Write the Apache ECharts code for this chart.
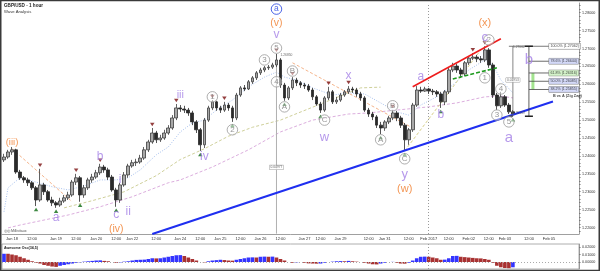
<!DOCTYPE html>
<html><head><meta charset="utf-8">
<script src="https://cdn.jsdelivr.net/npm/echarts@6.0.0/dist/echarts.min.js"></script>
<style>html,body{margin:0;padding:0;background:#fff}#c{width:600px;height:271px}</style>
</head><body><div id="c"></div>
<script>
// ---------- DATA ----------
const barCount = 144; // hourly slots shown (2h per slot), incl. empty space on the right
// [open, close, low, high]
const candles = [
[1.2389,1.2397,1.2383,1.2406],[1.2397,1.2411,1.2392,1.2417],[1.2411,1.2417,1.2403,1.2425],[1.2417,1.2355,1.2350,1.2420],
[1.2355,1.2339,1.2333,1.2361],[1.2339,1.2333,1.2325,1.2344],[1.2333,1.2325,1.2316,1.2339],[1.2325,1.2311,1.2305,1.2330],
[1.2311,1.2277,1.2260,1.2316],[1.2277,1.2319,1.2272,1.2364],[1.2319,1.2300,1.2291,1.2325],[1.2300,1.2277,1.2272,1.2305],
[1.2277,1.2269,1.2260,1.2286],[1.2269,1.2263,1.2255,1.2274],[1.2263,1.2274,1.2258,1.2283],[1.2274,1.2283,1.2269,1.2291],
[1.2283,1.2291,1.2277,1.2300],[1.2291,1.2327,1.2286,1.2333],[1.2327,1.2339,1.2319,1.2350],[1.2339,1.2291,1.2272,1.2344],
[1.2291,1.2311,1.2283,1.2319],[1.2311,1.2333,1.2305,1.2339],[1.2333,1.2341,1.2325,1.2350],[1.2341,1.2353,1.2336,1.2361],
[1.2353,1.2369,1.2347,1.2378],[1.2369,1.2361,1.2353,1.2375],[1.2361,1.2341,1.2333,1.2367],[1.2341,1.2305,1.2300,1.2347],
[1.2305,1.2277,1.2258,1.2311],[1.2277,1.2319,1.2269,1.2325],[1.2319,1.2347,1.2314,1.2355],[1.2347,1.2372,1.2339,1.2378],
[1.2372,1.2381,1.2367,1.2389],[1.2381,1.2383,1.2372,1.2392],[1.2383,1.2394,1.2378,1.2403],[1.2394,1.2417,1.2389,1.2425],
[1.2417,1.2439,1.2411,1.2445],[1.2439,1.2464,1.2434,1.2478],[1.2464,1.2445,1.2436,1.2470],[1.2445,1.2450,1.2439,1.2459],
[1.2450,1.2464,1.2445,1.2473],[1.2464,1.2478,1.2459,1.2486],[1.2478,1.2506,1.2473,1.2514],[1.2506,1.2534,1.2500,1.2545],
[1.2534,1.2531,1.2523,1.2542],[1.2531,1.2528,1.2520,1.2540],[1.2528,1.2520,1.2512,1.2534],[1.2520,1.2495,1.2486,1.2526],
[1.2495,1.2473,1.2464,1.2500],[1.2473,1.2431,1.2414,1.2478],[1.2431,1.2500,1.2422,1.2506],[1.2500,1.2534,1.2495,1.2540],
[1.2534,1.2551,1.2528,1.2556],[1.2551,1.2534,1.2526,1.2554],[1.2534,1.2528,1.2520,1.2540],[1.2528,1.2542,1.2523,1.2551],
[1.2542,1.2534,1.2526,1.2548],[1.2534,1.2506,1.2495,1.2540],[1.2506,1.2570,1.2500,1.2576],[1.2570,1.2590,1.2565,1.2595],
[1.2590,1.2587,1.2581,1.2598],[1.2587,1.2607,1.2584,1.2612],[1.2607,1.2618,1.2601,1.2623],[1.2618,1.2632,1.2612,1.2637],
[1.2632,1.2640,1.2626,1.2646],[1.2640,1.2646,1.2634,1.2651],[1.2646,1.2648,1.2640,1.2654],[1.2648,1.2654,1.2643,1.2660],
[1.2654,1.2668,1.2648,1.2685],[1.2668,1.2598,1.2590,1.2673],[1.2598,1.2562,1.2554,1.2604],[1.2562,1.2590,1.2556,1.2595],
[1.2590,1.2612,1.2584,1.2620],[1.2612,1.2604,1.2595,1.2618],[1.2604,1.2598,1.2590,1.2609],[1.2598,1.2595,1.2587,1.2604],
[1.2595,1.2584,1.2579,1.2601],[1.2584,1.2565,1.2556,1.2590],[1.2565,1.2545,1.2540,1.2570],[1.2545,1.2528,1.2520,1.2551],
[1.2528,1.2562,1.2523,1.2567],[1.2562,1.2579,1.2556,1.2593],[1.2579,1.2551,1.2545,1.2584],[1.2551,1.2556,1.2545,1.2565],
[1.2556,1.2570,1.2551,1.2576],[1.2570,1.2579,1.2565,1.2584],[1.2579,1.2587,1.2573,1.2595],[1.2587,1.2584,1.2576,1.2593],
[1.2584,1.2573,1.2565,1.2590],[1.2573,1.2562,1.2554,1.2579],[1.2562,1.2528,1.2523,1.2567],[1.2528,1.2517,1.2509,1.2534],
[1.2517,1.2509,1.2500,1.2523],[1.2509,1.2486,1.2478,1.2514],[1.2486,1.2478,1.2461,1.2495],[1.2478,1.2495,1.2470,1.2500],
[1.2495,1.2506,1.2489,1.2512],[1.2506,1.2520,1.2500,1.2528],[1.2520,1.2506,1.2497,1.2526],[1.2506,1.2486,1.2478,1.2512],
[1.2486,1.2445,1.2414,1.2492],[1.2445,1.2473,1.2431,1.2478],[1.2473,1.2542,1.2467,1.2548],[1.2542,1.2584,1.2537,1.2595],
[1.2584,1.2581,1.2576,1.2593],[1.2581,1.2587,1.2579,1.2593],[1.2587,1.2581,1.2573,1.2590],[1.2581,1.2579,1.2570,1.2587],
[1.2579,1.2573,1.2565,1.2584],[1.2573,1.2551,1.2534,1.2579],[1.2551,1.2579,1.2542,1.2584],[1.2579,1.2640,1.2573,1.2646],
[1.2640,1.2651,1.2634,1.2660],[1.2651,1.2640,1.2632,1.2657],[1.2640,1.2629,1.2618,1.2646],[1.2629,1.2660,1.2623,1.2665],
[1.2660,1.2673,1.2654,1.2679],[1.2673,1.2676,1.2668,1.2687],[1.2676,1.2671,1.2662,1.2682],[1.2671,1.2668,1.2660,1.2679],
[1.2668,1.2696,1.2662,1.27062],[1.2696,1.2654,1.2646,1.2701],[1.2654,1.2570,1.2562,1.2660],[1.2570,1.2540,1.2528,1.2576],
[1.2540,1.2565,1.2534,1.2579],[1.2565,1.2542,1.2537,1.2570],[1.2542,1.2523,1.2517,1.2548],[1.2523,1.2517,1.25109,1.2528]
];
// Awesome Oscillator(34,5)
const awesomeOsc = [
0.011,0.011,0.010,0.009,0.007,0.005,0.003,0.001,-0.001,-0.002,-0.004,-0.005,-0.006,-0.0065,-0.005,-0.004,
-0.003,-0.002,-0.001,-0.0005,0.0005,0.001,0.0015,0.002,0.0022,0.0015,0.001,0.0,-0.001,-0.0005,0.0005,0.001,
0.002,0.0028,0.003,0.0032,0.004,0.005,0.0048,0.005,0.006,0.007,0.008,0.009,0.0092,0.008,0.006,0.004,
0.002,0.0,-0.0005,0.001,0.002,0.0025,0.003,0.0026,0.002,0.0018,0.003,0.004,0.005,0.006,0.0062,0.006,
0.007,0.0072,0.007,0.0072,0.006,0.004,0.002,0.0,-0.001,-0.0005,0.0,-0.001,-0.0018,-0.002,-0.0022,-0.002,
-0.001,0.0,0.0005,0.001,0.0012,0.001,0.0015,0.001,0.0005,0.0,-0.001,-0.002,-0.003,-0.0032,-0.002,-0.001,
0.0,0.0002,-0.001,-0.002,-0.0022,-0.001,0.002,0.005,0.007,0.0072,0.007,0.006,0.005,0.003,0.0032,0.005,
0.008,0.0082,0.007,0.0065,0.006,0.0055,0.005,0.0048,0.004,0.003,-0.001,-0.005,-0.007,-0.008,-0.0082,-0.007
];
// moving averages, sampled points [slot, price]
const maFast = [[0,1.2244],[1,1.2311],[4,1.2339],[7,1.2330],[12,1.2314],[16,1.2305],[20,1.2316],[24,1.2333],[28,1.2333],[31,1.2339],[34,1.2361],[38,1.2403],[41,1.2425],[44,1.2467],[47,1.2492],[50,1.2500],[53,1.2528],[57,1.2556],[61,1.2593],[65,1.2620],[68,1.2634],[70,1.2620],[73,1.2612],[77,1.2590],[82,1.2570],[86,1.2576],[90,1.2573],[94,1.2548],[98,1.2523],[101,1.2514],[104,1.2542],[108,1.2565],[112,1.2598],[116,1.2640],[120,1.2668],[122,1.2654],[124,1.2612],[127,1.2576]];
const maMid = [[15,1.2255],[22,1.2275],[30,1.2300],[38,1.2345],[44,1.2390],[50,1.2420],[56,1.2455],[62,1.2480],[69,1.2500],[79,1.2545],[89,1.2590],[94,1.2592]];
const maSlow = [[1,1.2199],[4,1.2207],[16,1.2235],[24,1.2258],[32,1.2286],[41,1.2325],[44,1.2333],[52,1.2369],[61,1.2417],[69,1.2467],[77,1.2500],[86,1.2517],[91,1.2520],[98,1.2528],[106,1.2537],[113,1.2548],[120,1.2565],[124,1.2567],[127,1.2562]];
// drawn trend lines [slot, price]
const blueTrend = [[37,1.2182],[136.5,1.2552]];
const redWedge = [[102.25,1.2593],[123.5,1.2727]];
const greenWedge = [[111.5,1.2615],[123.25,1.2646]];
const yellowTrend = [[100,1.2414],[118.5,1.2696]];
const orangeTrendA = [[2,1.2420],[16.5,1.2272]];
const orangeTrendB = [[72,1.2660],[102,1.2478]];
const measureLine = [[68.25,1.2685],[68.25,1.2183]];
const measureText = '0.04977';
const peakText = '1.26850';
// pivot markers (slot indices)
const highPivots = [9,18,24,37,43,52,55,68,72,81,86,97,117,120];
const lowPivots = [8,13,19,28,49,57,70,79,94,100,109,127];
// wave labels [text, slot, price, kind, fontSize]
const waveLabels = [
['(iii)',1.5,1.2439,'o',9.5],['a',12.75,1.2227,'p'],['b',24.25,1.2397,'p'],['i',29,1.2333,'p'],
['c',27.75,1.2236,'p'],['ii',30.5,1.2244,'p'],['(iv)',27.75,1.2196,'o'],['iii',43.5,1.2570,'p',11],
['iv',49.5,1.2397,'p'],['1',51.5,1.2565,'c'],['2',57.25,1.2473,'c'],['3',64.5,1.2668,'c'],
['4',67.5,1.2607,'c'],['5',68.25,1.2701,'c'],['v',68.25,1.2738,'p'],['(v)',68.25,1.2771,'o'],
['a',68.25,1.2810,'b'],['A',70,1.2537,'c'],['B',72.25,1.2637,'c'],['C',79.5,1.2500,'c'],
['w',79.5,1.2453,'p',13],['x',86,1.2623,'p'],['A',93.5,1.2445,'c'],['B',97.25,1.2540,'c'],
['C',100.25,1.2392,'c'],['y',100.25,1.2347,'p',13],['(w)',100.25,1.2308,'o',11],['a',104,1.2620,'p'],
['b',109.25,1.2514,'p'],['2',121,1.2724,'c'],['c',120.25,1.2732,'p',13],['(x)',119.75,1.2771,'o',11],
['1',120.25,1.2618,'c'],['4',124,1.2587,'c'],['3',122.75,1.2514,'c'],['5',126.25,1.2495,'c'],
['a',126,1.2450,'p',15],['b',131.25,1.2668,'p',15]
];
// fibonacci retracement of B vs A
const fibHigh = 1.27062, fibLow = 1.25109, fibRange = '0.01953';
const fibNames = ['100.0%','78.6%','61.8%','50.0%','38.2%'];
const fibLevels = [1.27062,1.26644,1.26316,1.26085,1.25855];
const fibFill = ['#ffffff','#c9cff5','#c9f0bd','#c9cff5','#c9cff5'];
const fibSlotA = 126.5, fibSlotB = 131.25, fibSlotEnd = 135.75;
// right-axis price boxes
const priceBoxes = [1.25628,1.25508,1.25396,1.25257,1.25170];
const priceBoxFill = ['#ffffff','#f4f4f4','#d6f3fa','#c8ccf4','#f6caca'];
// tick labels
const tickIndex = [2,7,13,18,23,28,32,38,44,49,54,59,64,69,75,79,84,91,95,101,106,111,116,121,125,131,136];
const tickLabels = ['Jan 18','12:00','Jan 19','12:00','Jan 20','12:00','Jan 22','12:00','Jan 24','12:00','Jan 25','12:00','Jan 26','12:00','Jan 27','12:00','Jan 29','12:00','Jan 31','12:00','Feb 2017','12:00','Feb 02','12:00','Feb 03','12:00','Feb 05'];
const monthSlot = 106;
const priceTicks = [1.22,1.225,1.23,1.235,1.24,1.245,1.25,1.255,1.26,1.265,1.27,1.275,1.28];
const oscTicks = [0,0.01,0.02];

// ---------- CHART ----------
const FONT = '"Liberation Sans", Arial, sans-serif';
const categories = Array.from({length: barCount}, (_, i) => 'h' + i);
const labelMap = {}; tickIndex.forEach((ix, k) => labelMap[ix] = tickLabels[k]);
const tickSet = new Set(tickIndex.map(i => i - 2));
const minorTicks = []; for (let k = 1219; k <= 1282; k++) minorTicks.push(k / 1000);

const kindStyle = {
  p: {color: '#a47fe6', size: 12},
  o: {color: '#f07a28', size: 10.5},
  c: {color: '#7a7a7a', size: 8},
  b: {color: '#1f3fe0', size: 8.5}
};
function waveSeries(kind) {
  const circle = kind === 'c' || kind === 'b';
  return {
    type: 'scatter', xAxisIndex: 0, yAxisIndex: 0, silent: true, z: 12,
    symbol: 'circle', symbolSize: circle ? 10.5 : 0,
    itemStyle: circle ? {color: 'rgba(255,255,255,0.6)', borderColor: kind === 'b' ? '#1f3fe0' : '#9a9a9a', borderWidth: 1} : {color: 'rgba(0,0,0,0)'},
    label: {show: true, position: 'inside', color: kindStyle[kind].color, fontFamily: FONT, fontSize: kindStyle[kind].size},
    data: waveLabels.filter(w => w[3] === kind).map(w => ({
      value: [w[1], w[2]],
      label: {formatter: w[0], fontSize: w[4] || kindStyle[kind].size}
    }))
  };
}
function seg(points, color, width, type, z) {
  return {type: 'line', xAxisIndex: 0, yAxisIndex: 0, data: points, showSymbol: false, symbol: 'none',
    lineStyle: {color: color, width: width, type: type || 'solid'}, silent: true, z: z || 3};
}
function textAt(items, z) {
  return {type: 'scatter', xAxisIndex: 0, yAxisIndex: 0, silent: true, z: z || 14, symbolSize: 0,
    itemStyle: {color: 'rgba(0,0,0,0)'}, data: items};
}

const series = [];
series.push(seg(maSlow, '#dcaede', 1, [3, 2], 2));
series.push(seg(maMid, '#cfd09a', 1, [3, 2], 2));
series.push(seg(maFast, '#a9c2ee', 1, [1, 1.5], 2));
series.push(seg(orangeTrendA, '#f5b58c', 1, [3, 2], 2));
series.push(seg(orangeTrendB, '#f5b58c', 1, [3, 2], 2));
series.push(seg(yellowTrend, '#d7cf8a', 1, [3, 2], 2));
series.push(seg(measureLine, '#b0b0b0', 1, 'solid', 2));
series.push({
  type: 'candlestick', xAxisIndex: 0, yAxisIndex: 0, data: candles, barWidth: 3.2, z: 5, silent: true,
  itemStyle: {color: '#a8a8a8', color0: '#2a2a2a', borderColor: '#3c3c3c', borderColor0: '#2a2a2a', borderWidth: 0.8},
  markLine: {
    silent: true, symbol: 'none', animation: false,
    data: [{xAxis: monthSlot, lineStyle: {color: '#9a9a9a', type: [1, 2], width: 1}, label: {show: false}}]
      .concat(priceBoxes.map((v, k) => ({
        yAxis: v, lineStyle: {opacity: 0},
        label: {show: true, position: 'end', distance: 1, formatter: v.toFixed(5), fontFamily: FONT, fontSize: 3.6, color: '#111',
          backgroundColor: priceBoxFill[k], borderColor: '#666', borderWidth: 0.5, padding: [0.6, 1.2]}
      })))
  }
});
series.push(seg(blueTrend, '#1f2ff0', 2, 'solid', 6));
series.push(seg(redWedge, '#ee1c1c', 1.6, 'solid', 6));
series.push(seg(greenWedge, '#1e9a1e', 1.6, [4, 2], 6));
// fibonacci tool
series.push(seg([[fibSlotA, fibHigh], [fibSlotA, fibLow]], '#666', 0.8, 'solid', 7));
series.push(seg([[fibSlotA - 0.8, fibHigh], [fibSlotEnd, fibHigh]], '#555', 0.8, 'solid', 7));
series.push(seg([[fibSlotA - 0.6, fibLow], [fibSlotA + 0.6, fibLow]], '#444', 1.2, 'solid', 7));
series.push(seg([[fibSlotB, fibHigh], [fibSlotB, fibLow]], '#333', 0.8, 'solid', 7));
series.push(seg([[fibSlotB - 1.2, fibHigh], [fibSlotB + 1.2, fibHigh]], '#222', 1.4, 'solid', 7));
series.push(seg([[fibSlotB - 1.2, fibLow], [fibSlotB + 1.2, fibLow]], '#222', 1.4, 'solid', 7));
fibLevels.slice(1).forEach(L => series.push(seg([[fibSlotB, L], [fibSlotEnd, L]], '#444', 0.8, 'solid', 7)));
series.push(seg([[fibSlotB + 0.9, fibLevels[2]], [fibSlotB + 0.9, fibLevels[4]]], '#a3e48f', 3, 'solid', 6));
series.push(textAt(fibLevels.map((L, k) => ({
  value: [fibSlotEnd, L],
  label: {show: true, position: 'right', distance: 0, formatter: fibNames[k] + ' (' + L.toFixed(5) + ')', fontFamily: FONT,
    fontSize: 3.6, color: '#111', backgroundColor: fibFill[k], borderColor: '#777', borderWidth: 0.5, padding: [0.8, 1.5]}
})).concat([
  {value: [fibSlotEnd + 0.9, fibLevels[4] - 0.0018], label: {show: true, position: 'right', distance: 0, formatter: 'B vs A (Zig Zag)', fontFamily: FONT, fontSize: 3.8, fontWeight: 'bold', color: '#111'}},
  {value: [fibSlotA + 0.3, fibHigh - 0.0002], label: {show: true, position: 'right', distance: 0, formatter: fibHigh.toFixed(5), fontFamily: FONT, fontSize: 3.3, color: '#444'}},
  {value: [fibSlotA, 1.2612], label: {show: true, position: 'inside', formatter: fibRange, fontFamily: FONT, fontSize: 3.3, color: '#444', backgroundColor: '#fff', borderColor: '#999', borderWidth: 0.5, padding: [0.6, 1]}},
  {value: [fibSlotA + 0.5, fibLow + 0.0010], label: {show: true, position: 'right', distance: 0, formatter: fibLow.toFixed(5), fontFamily: FONT, fontSize: 3.3, color: '#444'}},
  {value: [measureLine[0][0], 1.2368], label: {show: true, position: 'inside', formatter: measureText, fontFamily: FONT, fontSize: 3.3, color: '#444', backgroundColor: '#fff', borderColor: '#999', borderWidth: 0.5, padding: [0.6, 1]}},
  {value: [measureLine[0][0] + 0.6, candles[68][3] - 0.0004], label: {show: true, position: 'right', distance: 0, formatter: peakText, fontFamily: FONT, fontSize: 3.3, color: '#444'}}
])));
// pivot markers
series.push({type: 'scatter', xAxisIndex: 0, yAxisIndex: 0, silent: true, z: 9, symbol: 'triangle', symbolRotate: 180,
  symbolSize: [4.5, 3.5], symbolOffset: [0, -3.5], itemStyle: {color: '#7a1010'},
  data: highPivots.map(i => [i, candles[i][3]])});
series.push({type: 'scatter', xAxisIndex: 0, yAxisIndex: 0, silent: true, z: 9, symbol: 'triangle',
  symbolSize: [4.5, 3.5], symbolOffset: [0, 3.5], itemStyle: {color: '#0c6a12'},
  data: lowPivots.map(i => [i, candles[i][2]])});
['p', 'o', 'c', 'b'].forEach(k => series.push(waveSeries(k)));
// oscillator
series.push({
  type: 'bar', xAxisIndex: 1, yAxisIndex: 1, data: awesomeOsc, barCategoryGap: '10%', silent: true,
  itemStyle: {color: p => (p.dataIndex === 0 || awesomeOsc[p.dataIndex] > awesomeOsc[p.dataIndex - 1]) ? '#3434ff' : '#a83232'},
  markLine: {silent: true, symbol: 'none', animation: false, data: [
    {xAxis: monthSlot, lineStyle: {color: '#9a9a9a', type: [1, 2], width: 1}, label: {show: false}},
    {yAxis: 0, lineStyle: {color: '#aaa', type: [1, 2], width: 1}, label: {show: false}},
    {yAxis: awesomeOsc[awesomeOsc.length - 1], lineStyle: {opacity: 0},
      label: {show: true, position: 'end', distance: 1, formatter: awesomeOsc[awesomeOsc.length - 1].toFixed(5), fontFamily: FONT, fontSize: 3.6, color: '#111', backgroundColor: '#fff', borderColor: '#666', borderWidth: 0.5, padding: [0.6, 1.2]}}
  ]}
});

const chart = echarts.init(document.getElementById('c'), null, {renderer: 'canvas'});
chart.setOption({
  animation: false,
  backgroundColor: '#fff',
  grid: [
    {left: 2, right: 21, top: 3, bottom: 37},
    {left: 2, right: 21, top: 244, bottom: 2, show: true, borderColor: '#9a9a9a', borderWidth: 0.8}
  ],
  xAxis: [
    {type: 'category', gridIndex: 0, data: categories, boundaryGap: true,
      axisLine: {lineStyle: {color: '#888', width: 0.8}},
      axisTick: {alignWithLabel: true, length: 2, interval: i => tickSet.has(i), lineStyle: {color: '#666'}},
      axisLabel: {interval: i => labelMap[i] !== undefined, formatter: (v, i) => labelMap[i] || '', fontSize: 4, color: '#333', fontFamily: FONT, margin: 2.5}},
    {type: 'category', gridIndex: 1, data: categories, boundaryGap: true,
      axisLine: {show: false}, axisTick: {show: false}, axisLabel: {show: false}}
  ],
  yAxis: [
    {type: 'value', gridIndex: 0, position: 'right', min: 1.2182, max: 1.2827, scale: true,
      axisLine: {show: true, lineStyle: {color: '#888', width: 0.8}},
      axisTick: {show: true, length: 1.5, customValues: minorTicks, lineStyle: {color: '#777'}},
      axisLabel: {customValues: priceTicks, formatter: v => v.toFixed(5), fontSize: 3.7, color: '#333', fontFamily: FONT, margin: 3},
      splitLine: {show: false}},
    {type: 'value', gridIndex: 1, position: 'right', min: -0.0093, max: 0.024,
      axisLine: {show: true, lineStyle: {color: '#888', width: 0.8}},
      axisTick: {show: true, length: 1.5, customValues: oscTicks, lineStyle: {color: '#777'}},
      axisLabel: {customValues: oscTicks, formatter: v => v.toFixed(5), fontSize: 3.7, color: '#333', fontFamily: FONT, margin: 3},
      splitLine: {show: false}}
  ],
  graphic: [
    {type: 'text', left: 4, top: 3, style: {text: 'GBP/USD - 1 hour', font: 'bold 4.6px ' + FONT, fill: '#222'}},
    {type: 'text', left: 4, top: 9.5, style: {text: 'Wave Analysis', font: '4.2px ' + FONT, fill: '#333'}},
    {type: 'text', left: 4, top: 229, style: {text: '\u25CE\u25CE Millivitaux', font: '3.6px ' + FONT, fill: '#555'}},
    {type: 'text', left: 4, top: 245.5, style: {text: 'Awesome Osc(34,5)', font: 'bold 3.6px ' + FONT, fill: '#222'}},
    {type: 'rect', shape: {x: 0.75, y: 0.5, width: 598.5, height: 270}, style: {fill: 'none', stroke: '#3a3a3a', lineWidth: 1.5}, silent: true}
  ],
  series: series
});
</script>
</body></html>
